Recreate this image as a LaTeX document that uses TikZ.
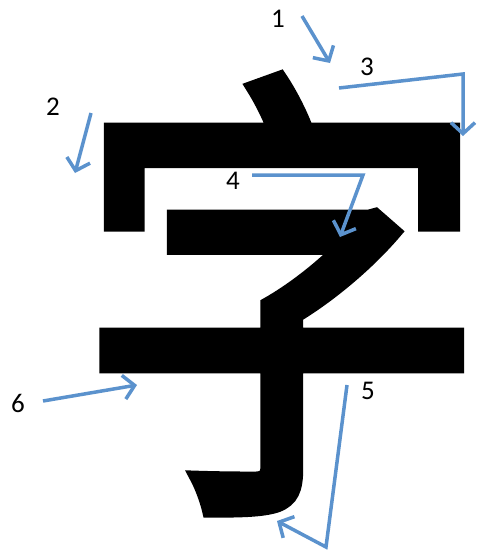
\documentclass[tikz,border=0pt]{standalone}
\usepackage{fontspec}
\setmainfont{Carlito}
\newfontfamily\cjk[FakeBold=2.5]{Noto Sans CJK SC}
\usetikzlibrary{arrows.meta}
\definecolor{strokeblue}{RGB}{91,146,205}

\begin{document}
\begin{tikzpicture}[x=1pt, y=-1pt,
  every node/.style={inner sep=0pt},
  glyph/.style={font=\cjk\fontsize{490}{490}\selectfont},
  num/.style={font=\fontsize{27}{30}\selectfont},
  pointer/.style={draw=strokeblue, line width=3.5pt, line join=miter, -{Straight Barb[length=11pt, width=24pt]}}
]
  \useasboundingbox (0,0) rectangle (481,558);

  % the character
  \node[glyph] (zi) at (282,294) {\scalebox{0.84}[0.96]{字}};

  % stroke numbers
  \node[num] (n1) at (278,19) {1};
  \node[num] (n2) at (53,107) {2};
  \node[num] (n3) at (367,67) {3};
  \node[num] (n4) at (233,181) {4};
  \node[num] (n5) at (368,391) {5};
  \node[num] (n6) at (18,403) {6};

  % arrow ends
  \coordinate (a1) at (302,16);  \coordinate (b1) at (330,63);
  \coordinate (a2) at (91,113);  \coordinate (b2) at (75,173);
  \coordinate (a3) at (339,88);  \coordinate (c3) at (463,74);  \coordinate (b3) at (463,136);
  \coordinate (a4) at (252,175); \coordinate (c4) at (363,175); \coordinate (b4) at (340,237);
  \coordinate (a5) at (347,385); \coordinate (c5) at (326,547); \coordinate (b5) at (277,521);
  \coordinate (a6) at (43,401);  \coordinate (b6) at (137,385);

  \draw[pointer] (a1) -- (b1);
  \draw[pointer] (a2) -- (b2);
  \draw[pointer] (a3) -- (c3) -- (b3);
  \draw[pointer] (a4) -- (c4) -- (b4);
  \draw[pointer] (a5) -- (c5) -- (b5);
  \draw[pointer] (a6) -- (b6);
\end{tikzpicture}
\end{document}
